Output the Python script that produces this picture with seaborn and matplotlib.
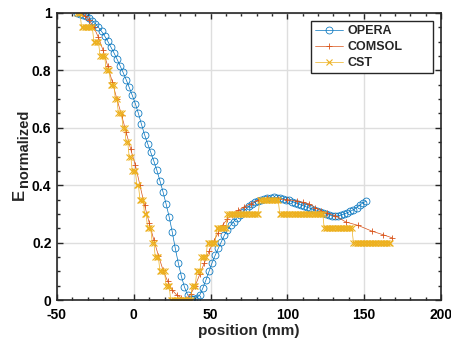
import numpy as np
import pandas as pd
import matplotlib
matplotlib.use('Agg')
import matplotlib.pyplot as plt
import seaborn as sns
from matplotlib.ticker import MultipleLocator

# OPERA simulation (2 mm steps)
opera_x = [-37, -35, -33, -31, -29, -27, -25, -23, -21, -19, -17, -15, -13, -11, -9, -7, -5, -3, -1,
           1, 3, 5, 7, 9, 11, 13, 15, 17, 19, 21, 23, 25, 27, 29, 31, 33, 35, 37, 39,
           41, 43, 45, 47, 49, 51, 53, 55, 57, 59, 61, 63, 65, 67, 69, 71, 73, 75, 77, 79,
           81, 83, 85, 87, 89, 91, 93, 95, 97, 99, 101, 103, 105, 107, 109, 111, 113, 115, 117, 119,
           121, 123, 125, 127, 129, 131, 133, 135, 137, 139, 141, 143, 145, 147, 149, 151]
opera_y = [1.000, 0.998, 0.994, 0.988, 0.981, 0.973, 0.962, 0.950, 0.936, 0.920, 0.902, 0.882, 0.862,
           0.840, 0.817, 0.793, 0.768, 0.741, 0.713, 0.684, 0.650, 0.612, 0.576, 0.545, 0.515, 0.485,
           0.452, 0.416, 0.377, 0.335, 0.290, 0.238, 0.180, 0.128, 0.082, 0.045, 0.018, 0.005, 0.003,
           0.008, 0.018, 0.042, 0.070, 0.100, 0.130, 0.156, 0.180, 0.203, 0.226, 0.245, 0.260, 0.273,
           0.286, 0.297, 0.307, 0.316, 0.326, 0.334, 0.341, 0.346, 0.350, 0.353, 0.355, 0.357, 0.358,
           0.357, 0.356, 0.353, 0.350, 0.347, 0.343, 0.339, 0.335, 0.331, 0.327, 0.323, 0.319, 0.315,
           0.310, 0.306, 0.303, 0.300, 0.297, 0.294, 0.293, 0.293, 0.296, 0.300, 0.304, 0.309, 0.315,
           0.322, 0.330, 0.338, 0.344]

# COMSOL simulation
comsol_x = [-35, -32, -29, -26, -23, -20, -17, -14, -11, -8, -5, -2, 1, 4, 7, 10, 13, 16, 19, 22, 25,
            28, 31, 34, 37, 40, 43, 46, 49, 52, 55, 58, 61, 64, 68, 72, 76, 81, 87, 94, 100, 106,
            110, 114, 118, 122, 126, 131, 138, 146, 155, 162, 168]
comsol_y = [1.0, 0.99, 0.975, 0.95, 0.915, 0.87, 0.815, 0.76, 0.70, 0.645, 0.585, 0.525, 0.47, 0.40,
            0.33, 0.27, 0.21, 0.155, 0.105, 0.065, 0.035, 0.017, 0.008, 0.004, 0.02, 0.05, 0.09,
            0.13, 0.17, 0.205, 0.235, 0.262, 0.283, 0.297, 0.312, 0.325, 0.335, 0.347, 0.354, 0.352,
            0.35, 0.345, 0.34, 0.335, 0.322, 0.31, 0.302, 0.294, 0.272, 0.26, 0.24, 0.228, 0.217]

# CST simulation: 1 mm samples starting at -37 mm, stored as (level, number of samples)
cst_x0 = -37
cst_levels = [1.0, 0.95, 0.9, 0.85, 0.8, 0.75, 0.7, 0.65, 0.6, 0.55, 0.5, 0.45, 0.4, 0.35, 0.3,
              0.25, 0.2, 0.15, 0.1, 0.05, 0.0,
              0.05, 0.1, 0.15, 0.2, 0.25, 0.3, 0.35, 0.3, 0.25, 0.2]
cst_counts = [3, 8, 4, 4, 3, 3, 2, 3, 2, 2, 2, 3, 2, 3, 2, 3, 2, 3, 4, 3, 14,
              3, 3, 4, 6, 7, 21, 13, 29, 19, 25]

xticks = [-50, 0, 50, 100, 150, 200]
yticks = [0, 0.2, 0.4, 0.6, 0.8, 1]
ytick_labels = ['0', '0.2', '0.4', '0.6', '0.8', '1']

cst_y = np.repeat(cst_levels, cst_counts)
cst_x = cst_x0 + np.arange(len(cst_y))

sns.set_style('ticks')
plt.rcParams['font.family'] = ['Liberation Sans', 'DejaVu Sans']
plt.rcParams['font.weight'] = 'bold'

dark = '#262626'
c_opera = '#0072BD'
c_comsol = '#D95319'
c_cst = '#EDB120'

W, H = 452, 341
fig = plt.figure(figsize=(W/100, H/100), dpi=100)
ax = fig.add_axes([57/W, 1-300/H, 384/W, 287/H])

#OPERA: open circles
sns.lineplot(x=opera_x, y=opera_y, ax=ax, sort=False, estimator=None, color=c_opera,
             linewidth=0.5, marker='o', markersize=5, markerfacecolor='none',
             markeredgecolor=c_opera, markeredgewidth=0.55, label='OPERA')
#COMSOL: plus
sns.lineplot(x=comsol_x, y=comsol_y, ax=ax, sort=False, estimator=None, color=c_comsol,
             linewidth=0.5, marker='+', markersize=5, markeredgecolor=c_comsol,
             markeredgewidth=0.6, label='COMSOL')
#CST: crosses, dense samples
sns.lineplot(x=cst_x, y=cst_y, ax=ax, sort=False, estimator=None, color=c_cst,
             linewidth=0.5, marker='x', markersize=5, markeredgecolor=c_cst,
             markeredgewidth=0.8, label='CST')

ax.set_xlim(-50, 200)
ax.set_ylim(0, 1)
ax.set_xticks(xticks)
ax.set_xticklabels([str(t) for t in xticks])
ax.set_yticks(yticks)
ax.set_yticklabels(ytick_labels)
ax.xaxis.set_minor_locator(MultipleLocator(10))
ax.yaxis.set_minor_locator(MultipleLocator(0.05))
ax.tick_params(which='both', direction='in', top=True, right=True, color=dark, width=1.0,
               labelsize=10, labelcolor='black')
ax.tick_params(which='major', length=4.5)
ax.tick_params(which='minor', length=2.5)
ax.tick_params(axis='x', which='major', pad=6)
ax.tick_params(axis='y', which='major', pad=4)
for s in ax.spines.values():
    s.set_color(dark)
    s.set_linewidth(1.2)
ax.grid(True, which='major', color='#dedede', linewidth=1.0)
ax.set_axisbelow(True)

ax.set_xlabel('position (mm)', fontsize=11, fontweight='bold', labelpad=1)
#y label: E with subscript, drawn as two texts
fig.text(19/W, 1-200/H, 'E', rotation=90, fontsize=12, fontweight='bold', ha='center', va='bottom')
fig.text(24/W, 1-187/H, 'normalized', rotation=90, fontsize=10.5, fontweight='bold',
         ha='center', va='bottom')

leg = ax.legend(loc='upper left', bbox_to_anchor=((311-57)/384, (300-71)/287, (433-311)/384, 50/287),
                mode='expand', fontsize=9, frameon=True, fancybox=False, framealpha=1,
                edgecolor=dark, handlelength=2.2, labelspacing=0.3, borderaxespad=0,
                borderpad=0.35, handletextpad=0.35)
leg.get_frame().set_linewidth(1.0)

fig.savefig('out.png', dpi=100)
